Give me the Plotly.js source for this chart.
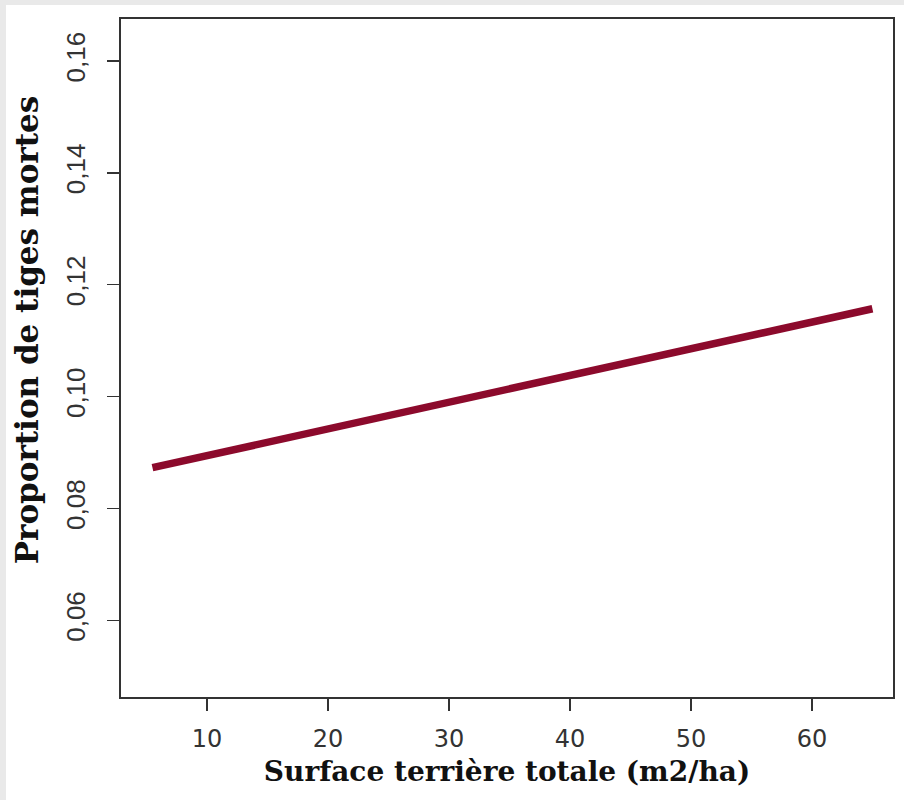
<!DOCTYPE html>
<html>
<head>
<meta charset="utf-8">
<script src="https://cdn.plot.ly/plotly-3.0.1.min.js"></script>
<style>
  html, body { margin: 0; padding: 0; background: #e9e9e9; }
  #chart { position: absolute; left: 6px; top: 5px; width: 898px; height: 795px; background: #fff; }
</style>
</head>
<body>
<div id="chart"></div>
<script>
// Data
const surfaceTerriere = [5.5, 34, 65];          // m2/ha
const proportionMortes = [0.0873, 0.1009, 0.1157];
const xTickValues = [10, 20, 30, 40, 50, 60];
const yTickValues = [0.06, 0.08, 0.10, 0.12, 0.14, 0.16];
const xTitle = 'Surface terrière totale (m2/ha)';
const yTitle = 'Proportion de tiges mortes';

const trace = {
  x: surfaceTerriere,
  y: proportionMortes,
  type: 'scatter',
  mode: 'lines',
  line: { color: '#8c0a2c', width: 7.5, shape: 'linear' },
  hoverinfo: 'skip'
};

const layout = {
  width: 898,
  height: 795,
  margin: { l: 115, r: 11, t: 14, b: 103 },
  paper_bgcolor: '#ffffff',
  plot_bgcolor: '#ffffff',
  separators: ',.',
  showlegend: false,
  xaxis: {
    range: [2.9, 66.7],
    tickvals: xTickValues,
    ticktext: xTickValues.map(String),
    ticks: 'outside',
    ticklen: 12,
    tickwidth: 1.5,
    tickcolor: '#333',
    showline: true,
    mirror: true,
    linecolor: '#333',
    linewidth: 2,
    showgrid: false,
    zeroline: false,
    ticklabelstandoff: 7,
    tickfont: { family: 'DejaVu Sans', size: 24, color: '#333' },
    title: {
      text: xTitle,
      font: { family: 'DejaVu Serif', size: 28, color: '#111', weight: 'bold' },
      standoff: 10
    }
  },
  yaxis: {
    range: [0.0463, 0.1675],
    tickvals: yTickValues,
    tickformat: '.2f',
    tickangle: -90,
    ticks: 'outside',
    ticklen: 12,
    tickwidth: 1.5,
    tickcolor: '#333',
    showline: true,
    mirror: true,
    linecolor: '#333',
    linewidth: 2,
    showgrid: false,
    zeroline: false,
    ticklabelstandoff: 12,
    tickfont: { family: 'Liberation Sans', size: 26, color: '#333' }
  },
  annotations: [{
    text: yTitle,
    textangle: -90,
    xref: 'paper', yref: 'paper',
    x: 0, y: 0.541,
    xanchor: 'center', yanchor: 'middle',
    xshift: -94,
    showarrow: false,
    font: { family: 'DejaVu Serif', size: 31, color: '#111', weight: 'bold' }
  }]
};

Plotly.newPlot('chart', [trace], layout, { displayModeBar: false, staticPlot: true });
</script>
</body>
</html>
